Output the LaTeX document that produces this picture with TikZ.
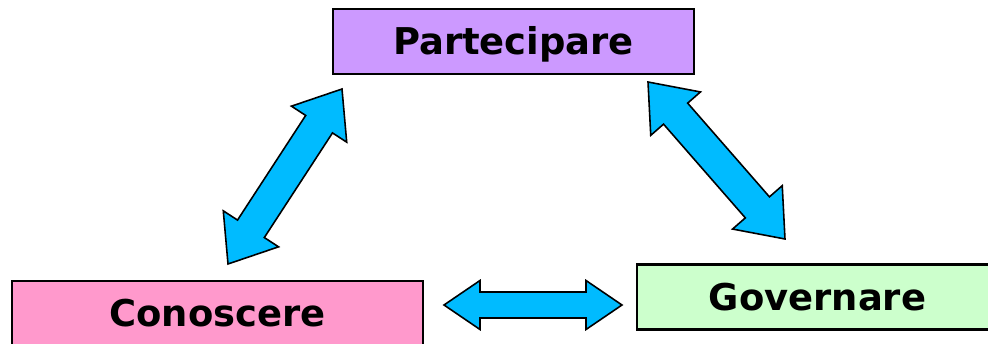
\documentclass[tikz,border=0pt]{standalone}
\usepackage{fontspec}
\setmainfont{DejaVu Sans}
\usepackage{tikz}
\usetikzlibrary{calc,positioning}
\definecolor{viola}{RGB}{204,153,255}
\definecolor{rosa}{RGB}{255,153,204}
\definecolor{verde}{RGB}{204,255,204}
\definecolor{azzurro}{RGB}{0,187,255}

% #1,#2 punte, #3 lunghezza testa, #4 mezza larghezza testa, #5 mezza larghezza asta
\newcommand{\doppia}[5]{%
  \draw[freccia] let \p1=($(#2)-(#1)$), \n1={atan2(\y1,\x1)} in
    (#1) -- ($(#1)+(\n1:#3)+(\n1+90:#4)$) -- ($(#1)+(\n1:#3)+(\n1+90:#5)$)
    -- ($(#2)+(\n1:-#3)+(\n1+90:#5)$) -- ($(#2)+(\n1:-#3)+(\n1+90:#4)$)
    -- (#2) -- ($(#2)+(\n1:-#3)+(\n1-90:#4)$) -- ($(#2)+(\n1:-#3)+(\n1-90:#5)$)
    -- ($(#1)+(\n1:#3)+(\n1-90:#5)$) -- ($(#1)+(\n1:#3)+(\n1-90:#4)$) -- cycle;}

\begin{document}
\begin{tikzpicture}[x=0.02cm,y=-0.02cm,
  box/.style={draw,line width=1.2pt,inner sep=0pt,minimum height=1.3cm,
    font=\fontsize{21}{25}\selectfont\bfseries,text height=15.3pt,text depth=0pt},
  freccia/.style={fill=azzurro,draw=black,line width=0.9pt}]
  \useasboundingbox (0,0) rectangle (988,344);

  \node[box,fill=viola,minimum width=7.22cm] (part) at (513.5,41.5) {Partecipare};
  \node[box,fill=rosa,minimum width=8.22cm] (con) at (217.5,313.5) {Conoscere};
  \node[box,fill=verde,minimum width=7.22cm] (gov) at (817.5,297) {Governare};

  \coordinate (c1) at (228,264);
  \coordinate (p1) at (342,89);
  \coordinate (p2) at (648,82);
  \coordinate (g1) at (785,239);
  \coordinate (c2) at (444,305);
  \coordinate (g2) at (622,305);

  \doppia{c1}{p1}{0.84cm}{0.66cm}{0.32cm}
  \doppia{p2}{g1}{0.84cm}{0.66cm}{0.32cm}
  \doppia{c2}{g2}{0.72cm}{0.49cm}{0.26cm}
\end{tikzpicture}
\end{document}
